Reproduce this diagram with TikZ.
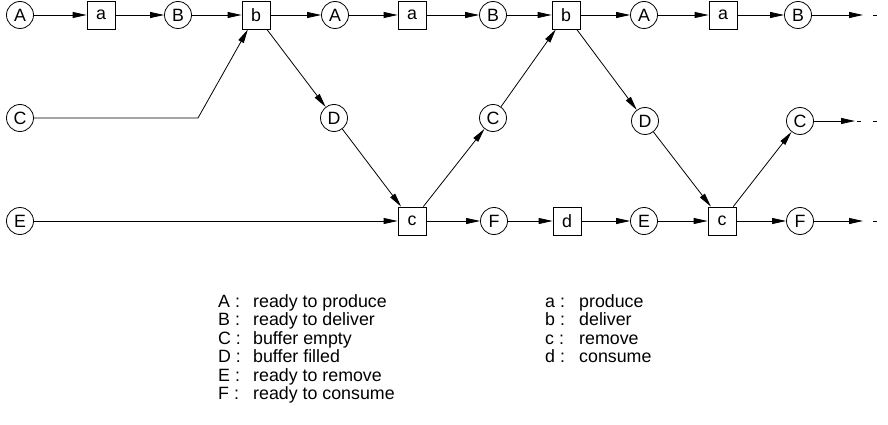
\documentclass[tikz,border=0pt]{standalone}
\usepackage{fontspec}
\setmainfont{Liberation Sans}
\usetikzlibrary{arrows.meta}

\newcommand{\lblfont}{\fontsize{17.8}{19}\selectfont}

\tikzset{
  place/.style={circle, draw, line width=0.8pt, minimum size=27pt, inner sep=0pt, font=\lblfont},
  trans/.style={rectangle, draw, line width=0.8pt, minimum size=28pt, inner sep=0pt, font=\lblfont},
  flow/.style={line width=0.8pt, -{Triangle[length=14pt,width=6pt]}},
  tail/.style={line width=0.8pt},
  keyname/.style={anchor=base west, inner sep=0pt, font=\lblfont},
}

\begin{document}
\begin{tikzpicture}[x=1pt, y=-1pt]
  \useasboundingbox (0,0) rectangle (888,425);

  % producer row
  \node[place] (A1) at (20,15)  {A};
  \node[trans] (a1) at (101,15) {a};
  \node[place] (B1) at (178,15) {B};
  \node[trans] (b1) at (256,15) {b};
  \node[place] (A2) at (335,15) {A};
  \node[trans] (a2) at (412,15) {a};
  \node[place] (B2) at (493,15) {B};
  \node[trans] (b2) at (566,15) {b};
  \node[place] (A3) at (644,15) {A};
  \node[trans] (a3) at (723,15) {a};
  \node[place] (B3) at (798,15) {B};

  % buffer row
  \node[place] (C1) at (20,118)  {C};
  \node[place] (D1) at (334,118) {D};
  \node[place] (C2) at (493,118) {C};
  \node[place] (D2) at (645,121) {D};
  \node[place] (C3) at (800,121) {C};

  % consumer row
  \node[place] (E1) at (20,221)  {E};
  \node[trans] (c1) at (412,221) {c};
  \node[place] (F1) at (494,221) {F};
  \node[trans] (d1) at (567,221) {d};
  \node[place] (E2) at (644,221) {E};
  \node[trans] (c2) at (722,221) {c};
  \node[place] (F2) at (800,221) {F};

  \coordinate (bend) at (198,118);
  \coordinate (endB) at (863,15);
  \coordinate (endC) at (855,121);
  \coordinate (endF) at (863,221);

  % producer arcs
  \draw[flow] (A1) -- (a1);
  \draw[flow] (a1) -- (B1);
  \draw[flow] (B1) -- (b1);
  \draw[flow] (b1) -- (A2);
  \draw[flow] (A2) -- (a2);
  \draw[flow] (a2) -- (B2);
  \draw[flow] (B2) -- (b2);
  \draw[flow] (b2) -- (A3);
  \draw[flow] (A3) -- (a3);
  \draw[flow] (a3) -- (B3);
  \draw[flow] (B3) -- (endB);

  % buffer arcs
  \draw[flow] (C1) -- (bend) -- (b1);
  \draw[flow] (b1) -- (D1);
  \draw[flow] (D1) -- (c1);
  \draw[flow] (c1) -- (C2);
  \draw[flow] (C2) -- (b2);
  \draw[flow] (b2) -- (D2);
  \draw[flow] (D2) -- (c2);
  \draw[flow] (c2) -- (C3);
  \draw[flow] (C3) -- (endC);

  % consumer arcs
  \draw[flow] (E1) -- (c1);
  \draw[flow] (c1) -- (F1);
  \draw[flow] (F1) -- (d1);
  \draw[flow] (d1) -- (E2);
  \draw[flow] (E2) -- (c2);
  \draw[flow] (c2) -- (F2);
  \draw[flow] (F2) -- (endF);

  % continuation marks
  \draw[tail] ([xshift=10pt]endB) -- ++(4,0);
  \draw[tail] ([xshift=2pt]endC) -- ++(4,0);
  \draw[tail] ([xshift=18pt]endC) -- ++(4,0);
  \draw[tail] ([xshift=10pt]endF) -- ++(4,0);

  % key: places
  \node[keyname] (kA) at (218,307)   {A :};
  \node[keyname] (kB) at (218,325.5) {B :};
  \node[keyname] (kC) at (218,344)   {C :};
  \node[keyname] (kD) at (218,362.5) {D :};
  \node[keyname] (kE) at (218,381)   {E :};
  \node[keyname] (kF) at (218,399.5) {F :};
  \node[keyname] (tA) at (253,307)   {ready to produce};
  \node[keyname] (tB) at (253,325.5) {ready to deliver};
  \node[keyname] (tC) at (253,344)   {buffer empty};
  \node[keyname] (tD) at (253,362.5) {buffer filled};
  \node[keyname] (tE) at (253,381)   {ready to remove};
  \node[keyname] (tF) at (253,399.5) {ready to consume};

  % key: transitions
  \node[keyname] (ka) at (545,307)   {a :};
  \node[keyname] (kb) at (545,325.5) {b :};
  \node[keyname] (kc) at (545,344)   {c :};
  \node[keyname] (kd) at (545,362.5) {d :};
  \node[keyname] (ta) at (579,307)   {produce};
  \node[keyname] (tb) at (579,325.5) {deliver};
  \node[keyname] (tc) at (579,344)   {remove};
  \node[keyname] (td) at (579,362.5) {consume};
\end{tikzpicture}
\end{document}
